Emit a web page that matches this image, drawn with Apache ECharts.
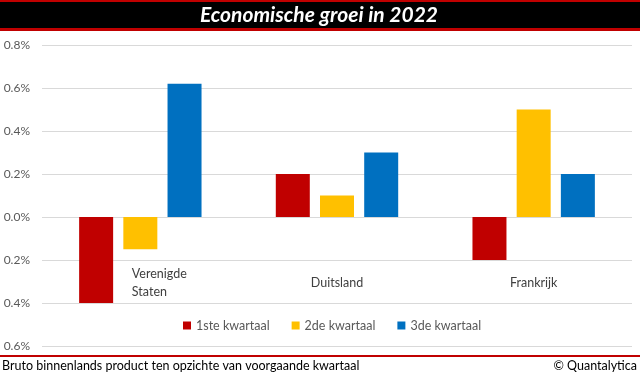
<!DOCTYPE html>
<html>
<head>
<meta charset="utf-8">
<script src="https://cdn.jsdelivr.net/npm/echarts@6/dist/echarts.min.js"></script>
<style>
    html, body { margin: 0; padding: 0; background: #fff; }
    #chart-groei { width: 640px; height: 375px; }
</style>
</head>
<body>
<div id="chart-groei"></div>
<script>
var landen = ['Verenigde\nStaten', 'Duitsland', 'Frankrijk'];
var kwartaal1 = [-0.40, 0.20, -0.20];
var kwartaal2 = [-0.15, 0.10, 0.50];
var kwartaal3 = [0.62, 0.30, 0.20];
var reeksNamen = ['1ste kwartaal', '2de kwartaal', '3de kwartaal'];
var kleuren = ['#C00000', '#FFC000', '#0070C0'];

var FONT = 'Lato';

InitChart();

function InitChart() {
    var chartDom = document.getElementById('chart-groei');
    var myChart = echarts.init(chartDom);
    var option;

    var reeksen = [kwartaal1, kwartaal2, kwartaal3].map((waarden, i) => {
        return {
            name: reeksNamen[i],
            type: 'bar',
            data: waarden,
            barWidth: 34,
            barGap: '30%',
            itemStyle: { color: kleuren[i] },
            emphasis: { disabled: true }
        }
    });

    option = {
        animation: false,
        textStyle: { fontFamily: FONT },
        grid: { left: 42, right: 8, top: 45, bottom: 29, containLabel: false, outerBoundsMode: 'none' },
        legend: {
            data: reeksNamen,
            left: 183,
            top: 319,
            padding: 0,
            itemWidth: 8,
            itemHeight: 8,
            itemGap: 22,
            icon: 'rect',
            textStyle: { color: '#595959', fontSize: 12.5, fontFamily: FONT }
        },
        xAxis: {
            type: 'category',
            data: landen,
            axisLine: { show: false, onZero: false },
            axisTick: { show: false },
            axisLabel: {
                color: '#404040',
                fontSize: 12.5,
                fontFamily: FONT,
                margin: -63,
                verticalAlign: 'middle',
                interval: 0,
                formatter: v => {
                    // eerste label links uitgelijnd zoals in Excel
                    if (v.indexOf('\n') >= 0) {
                        return v.split('\n').map(r => '{l|' + r + '}').join('\n');
                    }
                    return v;
                },
                rich: {
                    l: { align: 'left', padding: [0, 0, 0, 38], lineHeight: 18, color: '#404040', fontSize: 12.5, fontFamily: FONT }
                }
            }
        },
        yAxis: {
            type: 'value',
            min: -0.6,
            max: 0.8,
            interval: 0.2,
            axisLine: { show: false },
            axisTick: { show: false },
            splitLine: { lineStyle: { color: '#D9D9D9', width: 1 } },
            axisLabel: {
                color: '#595959',
                fontSize: 12,
                fontFamily: FONT,
                margin: 12,
                formatter: v => Math.abs(v).toFixed(1) + '%'
            }
        },
        series: reeksen,
        graphic: [
            { type: 'rect', shape: { x: 0, y: 0, width: 640, height: 31 }, style: { fill: '#C00000' }, silent: true },
            { type: 'rect', shape: { x: 0, y: 2, width: 640, height: 26 }, style: { fill: '#000000' }, silent: true },
            {
                type: 'text', x: 319, y: 15,
                style: {
                    text: 'Economische groei in 2022', fill: '#ffffff',
                    font: 'italic bold 21px ' + FONT, align: 'center', verticalAlign: 'middle'
                }
            },
            { type: 'rect', shape: { x: 0, y: 355, width: 640, height: 2 }, style: { fill: '#C00000' }, silent: true },
            {
                type: 'text', x: 2, y: 366,
                style: {
                    text: 'Bruto binnenlands product ten opzichte van voorgaande kwartaal', fill: '#000000',
                    font: '12.5px ' + FONT, align: 'left', verticalAlign: 'middle'
                }
            },
            {
                type: 'text', x: 637, y: 366,
                style: {
                    text: '© Quantalytica', fill: '#000000',
                    font: '12.5px ' + FONT, align: 'right', verticalAlign: 'middle'
                }
            }
        ]
    };

    myChart.setOption(option);
}
</script>
</body>
</html>
